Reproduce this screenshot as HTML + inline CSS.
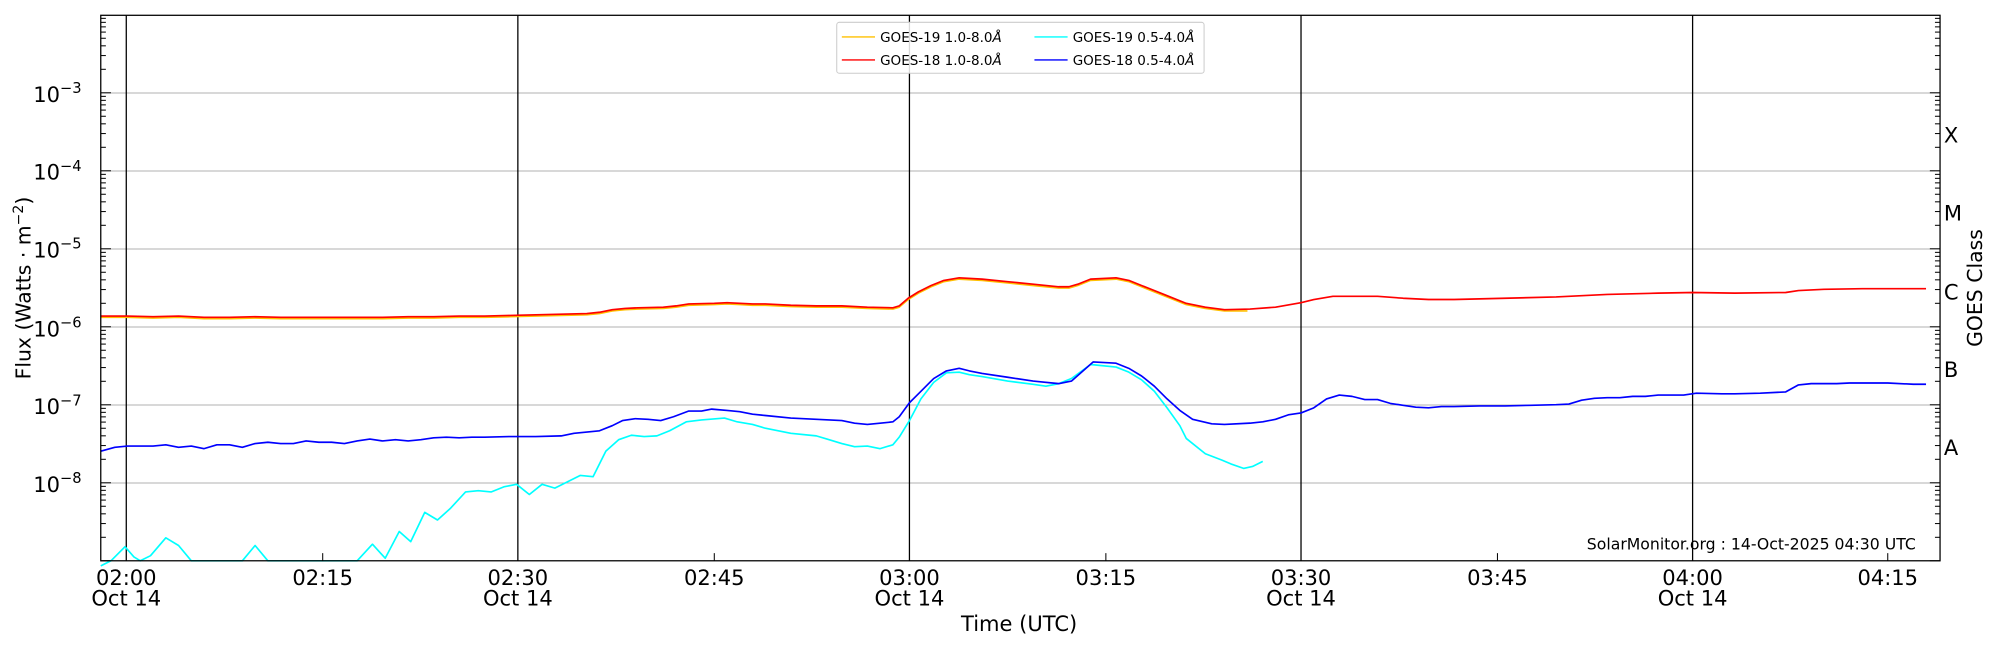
<!DOCTYPE html>
<html><head><meta charset="utf-8"><style>
html,body{margin:0;padding:0;background:#fff;}
svg{display:block;}
text{font-family:"DejaVu Sans","Liberation Sans",sans-serif;fill:#000;}
</style></head><body>
<svg id="s" width="2000" height="650" viewBox="0 0 1568 510" preserveAspectRatio="none" xmlns="http://www.w3.org/2000/svg">
<rect width="1568" height="510" fill="#fff"/>
<g stroke="#b0b0b0" stroke-width="0.8">
<line x1="79" x2="1521" y1="73" y2="73"/><line x1="79" x2="1521" y1="134.2" y2="134.2"/>
<line x1="79" x2="1521" y1="195.4" y2="195.4"/><line x1="79" x2="1521" y1="256.6" y2="256.6"/>
<line x1="79" x2="1521" y1="317.8" y2="317.8"/><line x1="79" x2="1521" y1="379" y2="379"/>
</g>
<g stroke="#000" stroke-width="1">
<line x1="99" x2="99" y1="12" y2="440"/><line x1="406" x2="406" y1="12" y2="440"/>
<line x1="713" x2="713" y1="12" y2="440"/><line x1="1020" x2="1020" y1="12" y2="440"/>
<line x1="1327" x2="1327" y1="12" y2="440"/>
</g>
<g id="ticks" stroke="#000" stroke-width="0.8"></g>
<g fill="none" stroke-width="1.3" stroke-linejoin="round">
<polyline stroke="#ffc000" points="79,249 100,249 120,249.5 140,249 160,250 180,250 200,249.5 220,250 240,250 260,250 280,250 300,250 320,249.5 340,249.5 360,249 380,249 400,248.5 420,248 440,247.5 460,247 470,246 480,244 490,243 500,242.5 520,242 530,241 540,239.5 560,239 570,238.5 580,239 590,239.5 600,239.5 620,240.5 640,241 660,241 680,242 700,242.5 705,241 712,235 720,230 730,225 740,221 752,219 770,220 790,222 810,224 830,226 838,226 845,224 855,220 875,219 885,221 900,227 915,233 930,239 945,242 960,244 978,244"/>
<polyline stroke="#ff0000" points="79,248 100,248 120,248.5 140,248 160,249 180,249 200,248.5 220,249 240,249 260,249 280,249 300,249 320,248.5 340,248.5 360,248 380,248 400,247.5 420,247 440,246.5 460,246 470,245 480,243 490,242 500,241.5 520,241 530,240 540,238.5 560,238 570,237.5 580,238 590,238.5 600,238.5 620,239.5 640,240 660,240 680,241 700,241.5 705,240 712,234 720,229 730,224 740,220 752,218 770,219 790,221 810,223 830,225 838,225 845,223 855,219 875,218 885,220 900,226 915,232 930,238 945,241 960,243 980,242.5 1000,241 1020,237.5 1030,235 1045,232.5 1080,232.5 1100,234 1120,235 1140,235 1180,234 1220,233 1240,232 1260,231 1300,230 1327,229.5 1360,230 1400,229.5 1410,228 1430,227 1460,226.5 1510,226.5"/>
<polyline stroke="#00ffff" points="79,444 87,440 98,429 105,437 110,440 118,436 130,422 140,428 150,440 190,440 200,428 210,440 280,440 292,427 302,438 313,417 322,425 333,402 343,408 353,399 365,386 375,385 385,386 395,382 405,380 415,388 425,380 435,383 445,378 455,373 465,374 475,354 485,345 495,341.5 505,342.5 515,342 525,338 538,331 550,329.5 568,328 578,331 590,333 600,336 620,340 640,342 650,345 660,348 670,350.5 680,350 690,352 700,349 705,343 713,330 722,313 732,300 742,292.5 752,292 760,294 770,295.5 790,299 810,301.5 820,303 830,301 840,297 855,286 875,288 885,292 895,298 905,307 915,320 925,334 930,344 945,356 958,361 965,364 975,367.5 982,366 990,362"/>
<polyline stroke="#0000ff" points="79,354 90,351 100,350 120,350 130,349 140,351 150,350 160,352 170,349 180,349 190,351 200,348 210,347 220,348 230,348 240,346 250,347 260,347 270,348 280,346 290,344.5 300,346 310,345 320,346 330,345 340,343.5 350,343 360,343.5 370,343 380,343 400,342.5 420,342.5 440,342 450,340 460,339 470,338 480,334 488,330 498,328.5 508,329 518,330 528,327 540,322.5 550,322.5 558,321 570,322 580,323 590,325 600,326 620,328 640,329 660,330 670,332 680,333 690,332 700,331 705,327 713,316 722,307 732,297 742,291 752,289 760,291 770,293 790,296 810,299 830,301 840,299 848,292 857,284 875,285 885,289 895,295 905,303 915,313 925,322 935,329 950,332.5 960,333 980,332 990,331 1000,329 1010,325.5 1020,324 1030,320 1040,313 1050,310 1060,311 1070,313.5 1080,313.5 1090,316.5 1100,318 1110,319.5 1120,320 1130,319 1140,319 1160,318.5 1180,318.5 1200,318 1220,317.5 1230,317 1240,314 1250,312.5 1260,312 1270,312 1280,311 1290,311 1300,310 1320,310 1330,308.5 1350,309 1360,309 1380,308.5 1400,307.5 1410,302 1420,301 1440,301 1450,300.5 1480,300.5 1500,301.5 1510,301.5"/>
</g>
<rect x="79" y="12" width="1442" height="428" fill="none" stroke="#000" stroke-width="1"/>
<g stroke="#000" stroke-width="0.8">
<line x1="253" x2="253" y1="440" y2="434"/><line x1="560" x2="560" y1="440" y2="434"/>
<line x1="867" x2="867" y1="440" y2="434"/><line x1="1174" x2="1174" y1="440" y2="434"/>
<line x1="1480" x2="1480" y1="440" y2="434"/>
</g>
<g font-size="16.5" text-anchor="middle">
<text x="99" y="459">02:00</text><text x="99" y="475">Oct 14</text>
<text x="253" y="459">02:15</text>
<text x="406" y="459">02:30</text><text x="406" y="475">Oct 14</text>
<text x="560" y="459">02:45</text>
<text x="713" y="459">03:00</text><text x="713" y="475">Oct 14</text>
<text x="867" y="459">03:15</text>
<text x="1020" y="459">03:30</text><text x="1020" y="475">Oct 14</text>
<text x="1174" y="459">03:45</text>
<text x="1327" y="459">04:00</text><text x="1327" y="475">Oct 14</text>
<text x="1480" y="459">04:15</text>
<text x="799" y="495">Time (UTC)</text>
</g>
<g font-size="16.5" text-anchor="end">
<text x="64" y="80">10<tspan font-size="11.5" dy="-7">−3</tspan></text>
<text x="64" y="141">10<tspan font-size="11.5" dy="-7">−4</tspan></text>
<text x="64" y="202">10<tspan font-size="11.5" dy="-7">−5</tspan></text>
<text x="64" y="264">10<tspan font-size="11.5" dy="-7">−6</tspan></text>
<text x="64" y="325">10<tspan font-size="11.5" dy="-7">−7</tspan></text>
<text x="64" y="386">10<tspan font-size="11.5" dy="-7">−8</tspan></text>
</g>
<g font-size="16.5">
<text x="1524" y="112">X</text><text x="1524" y="173">M</text><text x="1524" y="235">C</text>
<text x="1524" y="296">B</text><text x="1524" y="357">A</text>
</g>
<text font-size="16" text-anchor="middle" transform="translate(24,226) rotate(-90)">Flux (Watts · m<tspan font-size="11" dy="-6">−2</tspan><tspan dy="6">)</tspan></text>
<text font-size="16" text-anchor="middle" transform="translate(1554,226) rotate(-90)">GOES Class</text>
<text font-size="12.3" x="1502" y="431" text-anchor="end">SolarMonitor.org : 14-Oct-2025 04:30 UTC</text>
<rect x="656" y="17.5" width="288" height="40" rx="2" fill="#fff" fill-opacity="0.85" stroke="#ccc" stroke-width="0.8"/>
<g stroke-width="1.1">
<line x1="660" x2="686" y1="29" y2="29" stroke="#ffc000"/>
<line x1="660" x2="686" y1="47" y2="47" stroke="#ff0000"/>
<line x1="811" x2="837" y1="29" y2="29" stroke="#00ffff"/>
<line x1="811" x2="837" y1="47" y2="47" stroke="#0000ff"/>
</g>
<g font-size="10.6">
<text x="690" y="33">GOES-19 1.0-8.0<tspan font-style="italic">Å</tspan></text>
<text x="690" y="51">GOES-18 1.0-8.0<tspan font-style="italic">Å</tspan></text>
<text x="841" y="33">GOES-19 0.5-4.0<tspan font-style="italic">Å</tspan></text>
<text x="841" y="51">GOES-18 0.5-4.0<tspan font-style="italic">Å</tspan></text>
</g>
</svg>
<script>
var g=document.getElementById('ticks'),h='';
for(var e=-9;e<-2;e++){for(var m=1;m<10;m++){var y=440-(e+9+Math.log10(m))*61.2;if(y<12)continue;var L=(m==1)?8:4;
h+='<line x1="79" x2="'+(79+L)+'" y1="'+y+'" y2="'+y+'"/><line x1="1521" x2="'+(1521-L)+'" y1="'+y+'" y2="'+y+'"/>';}}
g.innerHTML=h;
</script>
</body></html>
